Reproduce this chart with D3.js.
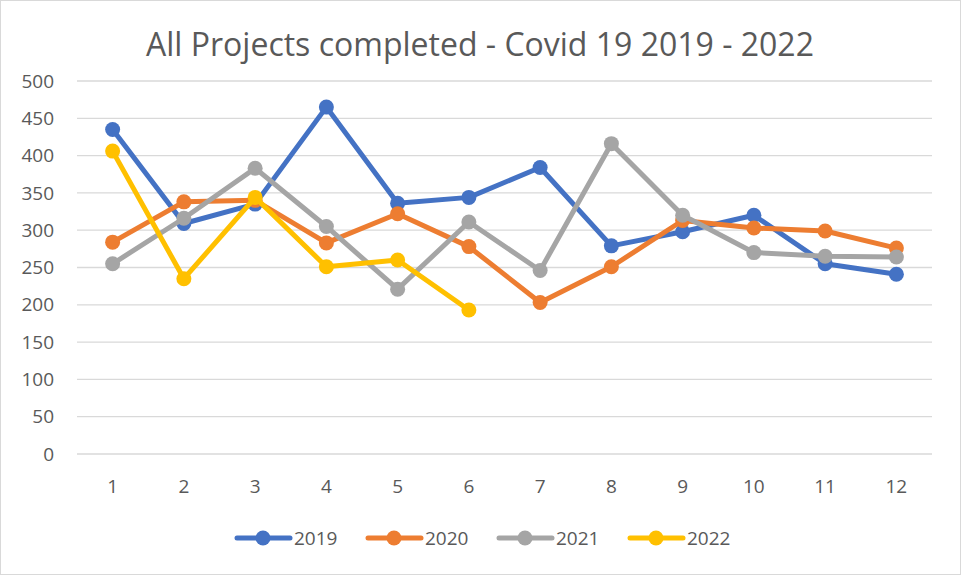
<!DOCTYPE html>
<html>
<head>
<meta charset="utf-8">
<script src="https://cdn.jsdelivr.net/npm/d3@7"></script>
<style>
  body { margin: 0; background: #fff; }
  text { font-family: "Open Sans", "Liberation Sans", sans-serif; fill: #595959; }
</style>
</head>
<body>
<div id="chart"></div>
<script>
// chart data
var months = ["1", "2", "3", "4", "5", "6", "7", "8", "9", "10", "11", "12"];
var years = ["2019", "2020", "2021", "2022"];
var colors = ["#4472C4", "#ED7D31", "#A5A5A5", "#FFC000"];
var v2019 = [435, 309, 335, 465, 336, 344, 384, 279, 298, 320, 255, 241];
var v2020 = [284, 338, 340, 283, 322, 278, 203, 251, 313, 303, 299, 276];
var v2021 = [255, 316, 383, 305, 221, 311, 246, 416, 320, 270, 265, 264];
var v2022 = [406, 235, 344, 251, 260, 193];
var yTicks = [0, 50, 100, 150, 200, 250, 300, 350, 400, 450, 500];

var series = [v2019, v2020, v2021, v2022];

var width = 961, height = 575;
var plotLeft = 77, plotRight = 932, plotTop = 81, plotBottom = 454;

var svg = d3.select("#chart").append("svg")
    .attr("width", width).attr("height", height);

// outer border
svg.append("rect").attr("x", 0.5).attr("y", 0.5)
    .attr("width", width - 1).attr("height", height - 1)
    .attr("fill", "#fff").attr("stroke", "#d9d9d9");

var x = d3.scaleBand().domain(months).range([plotLeft, plotRight]);
var y = d3.scaleLinear().domain([0, 500]).range([plotBottom, plotTop]);

// gridlines
svg.append("g").selectAll("line").data(yTicks).enter().append("line")
    .attr("x1", plotLeft).attr("x2", plotRight)
    .attr("y1", function (d) { return y(d); })
    .attr("y2", function (d) { return y(d); })
    .attr("stroke", "#d9d9d9").attr("stroke-width", 1.3);

// y labels
svg.append("g").selectAll("text").data(yTicks).enter().append("text")
    .attr("x", 54).attr("y", function (d) { return y(d); })
    .attr("dy", "0.35em").attr("text-anchor", "end")
    .style("font-size", "19px")
    .text(function (d) { return d; });

// x labels
svg.append("g").selectAll("text").data(months).enter().append("text")
    .attr("x", function (d) { return x(d) + x.bandwidth() / 2; })
    .attr("y", 486).attr("dy", "0.35em").attr("text-anchor", "middle")
    .style("font-size", "19px")
    .text(function (d) { return d; });

// title
svg.append("text").attr("x", 480).attr("y", 45).attr("dy", "0.35em")
    .attr("text-anchor", "middle").style("font-size", "32px")
    .text("All Projects completed - Covid 19 2019 - 2022");

var line = d3.line()
    .x(function (d, i) { return x(months[i]) + x.bandwidth() / 2; })
    .y(function (d) { return y(d); });

series.forEach(function (vals, s) {
    var g = svg.append("g");
    g.append("path").datum(vals)
        .attr("d", line).attr("fill", "none")
        .attr("stroke", colors[s]).attr("stroke-width", 5)
        .attr("stroke-linejoin", "round").attr("stroke-linecap", "round");
    g.selectAll("circle").data(vals).enter().append("circle")
        .attr("cx", function (d, i) { return x(months[i]) + x.bandwidth() / 2; })
        .attr("cy", function (d) { return y(d); })
        .attr("r", 7.5).attr("fill", colors[s]);
});

// legend
var legend = svg.append("g").selectAll("g").data(years).enter().append("g")
    .attr("transform", function (d, i) { return "translate(" + (237 + i * 131) + ",538)"; });
legend.append("line").attr("x1", 0).attr("x2", 53)
    .attr("stroke", function (d, i) { return colors[i]; })
    .attr("stroke-width", 5).attr("stroke-linecap", "round");
legend.append("circle").attr("cx", 26).attr("r", 7.5)
    .attr("fill", function (d, i) { return colors[i]; });
legend.append("text").attr("x", 57).attr("dy", "0.35em")
    .style("font-size", "19px")
    .text(function (d) { return d; });
</script>
</body>
</html>
